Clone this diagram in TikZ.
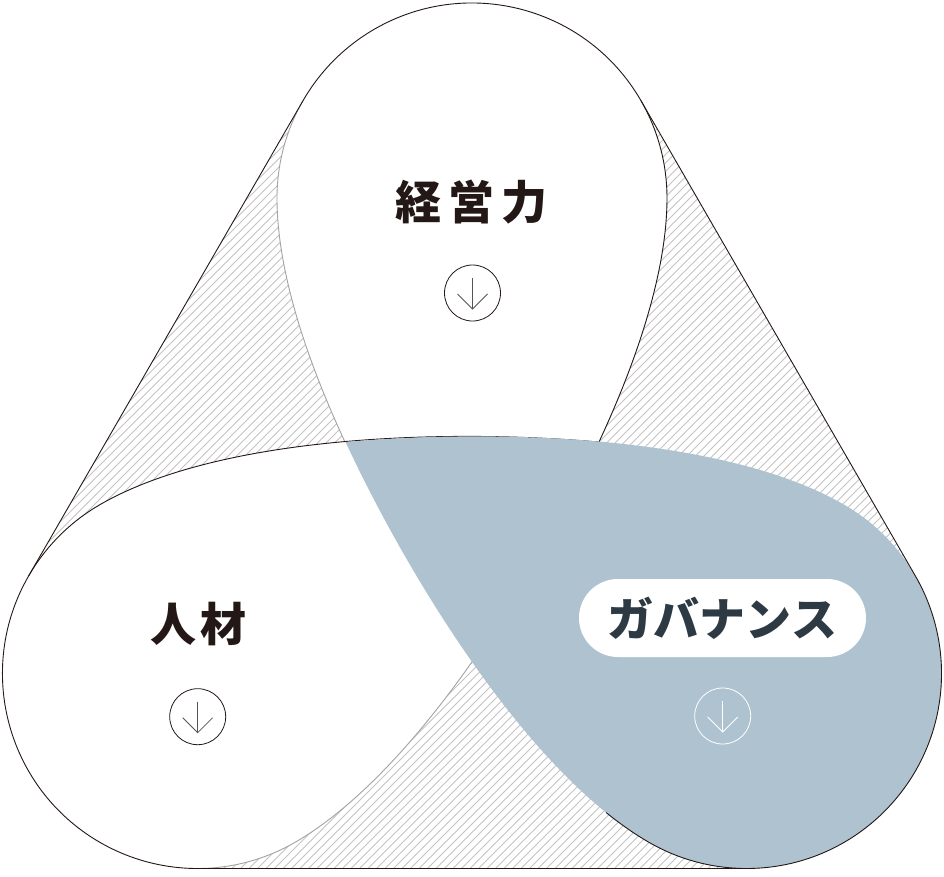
\documentclass[tikz,border=0pt]{standalone}
\usepackage{fontspec}
\newfontfamily\cjk{Noto Sans CJK JP}
\definecolor{ink}{HTML}{231815}
\definecolor{edgegray}{HTML}{A3A3A3}
\definecolor{hatchgray}{HTML}{C4C4C4}
\definecolor{govblue}{HTML}{AFC2D0}
\definecolor{govtext}{HTML}{2D3A43}
\definecolor{arrowgray}{HTML}{555555}
\tikzset{
  droppath/.style={insert path={(0,-146) .. controls (-86.1,-23.15) and (-195,177) .. (-195,317)
      arc[start angle=180,end angle=0,radius=195] .. controls (195,177) and (86.1,-23.15) .. (0,-146) -- cycle}},
  grayedge/.style={insert path={(0,-146) .. controls (-86.1,-23.15) and (-195,177) .. (-195,317)
      arc[start angle=180,end angle=150,radius=195]}},
  darkedge/.style={insert path={(168.87,414.5) arc[start angle=30,end angle=0,radius=195]
      .. controls (195,177) and (86.1,-23.15) .. (0,-146)}},
  hullpath/.style={insert path={(168.87,414.5) arc[start angle=30,end angle=150,radius=195]
      -- (-443.4,-61) arc[start angle=150,end angle=270,radius=195]
      -- (274.53,-353.5) arc[start angle=270,end angle=390,radius=195] -- cycle}},
  darkline/.style={draw=ink,line width=0.9pt},
  grayline/.style={draw=edgegray,line width=0.9pt},
  hatchline/.style={draw=hatchgray,line width=0.75pt},
  label/.style={font=\cjk\bfseries\fontsize{46}{46}\selectfont,text=ink,inner sep=0pt},
  arrowcirc/.style={circle,draw=ink,line width=0.8pt,minimum size=56pt,inner sep=0pt},
  arrowline/.style={draw=arrowgray,line width=0.8pt},
  pill/.style={fill=white,rounded corners=39pt,minimum width=287pt,minimum height=78pt,inner sep=0pt,
      font=\cjk\bfseries\fontsize{46}{46}\selectfont,text=govtext}
}
\begin{document}
\begin{tikzpicture}[x=1pt,y=1pt]
\useasboundingbox (-472,-361) rectangle (472,515);
% hatched hull
\fill[white,hullpath];
\begin{scope}
  \clip[hullpath];
  \foreach \c in {-1000,-991.5,...,900} \draw[hatchline] (\c-400,-400) -- (\c+600,600);
\end{scope}
% top drop
\fill[white,droppath];
\path[grayline,grayedge];
\path[darkline,darkedge];
% left drop
\begin{scope}[rotate=120]
  \fill[white,droppath];
  \path[grayline,grayedge];
  \path[darkline,darkedge];
\end{scope}
% governance drop
\begin{scope}[rotate=-120]
  \fill[govblue,droppath];
  \begin{scope}
    \clip (-300,265) rectangle (300,700);
    \path[darkline,darkedge];
  \end{scope}
\end{scope}
% hull outline
\path[darkline,hullpath];
% labels
\node[label] (keiei) at (-0.5,313) {経\kern7pt営\kern7pt力};
\node[label] (jinzai) at (-273.5,-109) {人\kern4pt材};
\node[pill] (gov) at (250.5,-103) {ガバナンス};
% arrow icons
\node[arrowcirc] (a1) at (0.5,222) {};
\draw[arrowline] ([yshift=15pt]a1.center) -- ([yshift=-16pt]a1.center);
\draw[arrowline] ([xshift=-15pt,yshift=-1pt]a1.center) -- ([yshift=-16pt]a1.center) -- ([xshift=15pt,yshift=-1pt]a1.center);
\node[arrowcirc] (a2) at (-274.3,-201.7) {};
\draw[arrowline] ([yshift=15pt]a2.center) -- ([yshift=-16pt]a2.center);
\draw[arrowline] ([xshift=-15pt,yshift=-1pt]a2.center) -- ([yshift=-16pt]a2.center) -- ([xshift=15pt,yshift=-1pt]a2.center);
\node[arrowcirc,draw=white] (a3) at (250.7,-201) {};
\draw[arrowline,draw=white] ([yshift=15pt]a3.center) -- ([yshift=-16pt]a3.center);
\draw[arrowline,draw=white] ([xshift=-15pt,yshift=-1pt]a3.center) -- ([yshift=-16pt]a3.center) -- ([xshift=15pt,yshift=-1pt]a3.center);
\end{tikzpicture}
\end{document}
